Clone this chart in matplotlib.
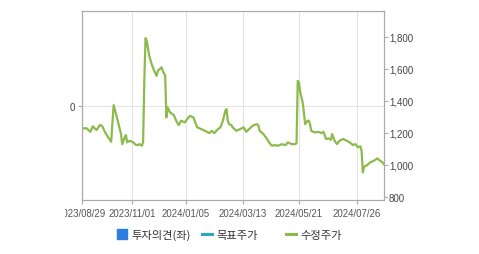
import matplotlib
matplotlib.use("Agg")
import matplotlib.pyplot as plt
from matplotlib.lines import Line2D
from matplotlib.ticker import FuncFormatter
from matplotlib.transforms import Bbox

# ===== data (x = trading session index from 2023/08/29) =====
session = [0, 4, 7, 9, 12, 15, 17, 19, 21, 24, 26, 28, 30, 32, 33, 35, 36, 37, 39,
           42, 44, 46, 47, 49, 50, 51, 52, 53, 55, 57, 59, 61, 62, 65, 66, 68, 69,
           70, 72, 75, 77, 79, 81, 84, 86, 88, 91, 92, 94, 96, 99, 102, 104, 106,
           108, 111, 113, 114, 115, 117, 118, 119, 120, 122, 123, 126, 129, 132,
           134, 137, 140, 143, 144, 145, 148, 151, 153, 155, 157, 160, 163, 166,
           168, 171, 174, 175, 176, 177, 178, 180, 181, 182, 184, 185, 186, 187,
           190, 193, 195, 197, 199, 201, 203, 204, 206, 208, 210, 213, 216, 219,
           221, 223, 225, 227, 228, 229, 230, 231, 232, 235, 238, 241, 242, 245, 246]
price = [1228, 1228, 1206, 1240, 1217, 1250, 1238, 1203, 1178, 1144, 1373, 1317,
         1254, 1192, 1129, 1171, 1186, 1140, 1150, 1140, 1125, 1123, 1129, 1119,
         1140, 1525, 1792, 1775, 1681, 1629, 1588, 1556, 1588, 1609, 1588, 1556,
         1296, 1359, 1327, 1311, 1275, 1248, 1275, 1265, 1286, 1306, 1296, 1275,
         1234, 1228, 1217, 1206, 1198, 1212, 1198, 1223, 1234, 1254, 1275, 1338,
         1348, 1275, 1254, 1248, 1234, 1212, 1223, 1234, 1206, 1228, 1248, 1254,
         1244, 1212, 1192, 1161, 1136, 1119, 1123, 1119, 1129, 1123, 1140, 1129,
         1129, 1135, 1525, 1515, 1453, 1390, 1327, 1254, 1275, 1275, 1254, 1212,
         1202, 1206, 1198, 1206, 1161, 1165, 1156, 1192, 1150, 1129, 1150, 1161,
         1150, 1136, 1123, 1129, 1109, 1115, 1088, 952, 985, 994, 994, 1015, 1025,
         1040, 1031, 1015, 1004]
last_session = 246

tick_sessions = [0, 41, 85, 131, 177, 224]
tick_labels = ["2023/08/29", "2023/11/01", "2024/01/05", "2024/03/13",
               "2024/05/21", "2024/07/26"]
price_ticks = [800, 1000, 1200, 1400, 1600, 1800]

legend_labels = ["투자의견(좌)", "목표주가", "수정주가"]
legend_colors = ["#2b7de0", "#27a9c5", "#8cba4c"]

# ===== figure =====
fig = plt.figure(figsize=(4.79, 2.55), dpi=100)
ax = fig.add_axes([0.1706, 0.212, 0.6304, 0.740])
ax2 = ax.twinx()

spine_c = "#aaaaaa"
for a in (ax, ax2):
    for s in a.spines.values():
        s.set_color(spine_c)
        s.set_linewidth(0.8)

num_font = "Liberation Sans"

# left axis (투자의견)
ax.set_xlim(0, last_session)
ax.set_ylim(-1, 1)
ax.set_yticks([0])
ax.set_yticklabels(["0"], fontsize=7, color="#444444", family=num_font)
ax.set_xticks(tick_sessions)
ax.set_xticklabels(tick_labels, fontsize=6.9, color="#555555", family=num_font)
ax.tick_params(axis="both", length=3, width=0.8, color=spine_c, pad=2)
ax.tick_params(axis="x", pad=3)
ax.grid(True, color="#e4e4e4", linewidth=0.8)
ax.set_axisbelow(True)

# right axis (수정주가)
ax2.plot(session, price, color=legend_colors[2], linewidth=1.6, solid_joinstyle="round")
ax2.set_ylim(780, 1960)
ax2.set_yticks(price_ticks)
ax2.yaxis.set_major_formatter(FuncFormatter(lambda v, p: f"{int(v):,}"))
ax2.tick_params(axis="y", length=3, width=0.8, color=spine_c, pad=0.8,
                labelsize=7, labelcolor="#444444")
for t in ax2.get_yticklabels():
    t.set_family(num_font)

# first date label is cut at the chart box edge
fig.canvas.draw()
first = ax.get_xticklabels()[0]
first.set_clip_box(Bbox.from_extents(64.5, 0, 479, 255))
first.set_clip_on(True)

# ===== legend =====
handles = [
    Line2D([], [], marker="s", linestyle="", markersize=6.6, color=legend_colors[0]),
    Line2D([], [], color=legend_colors[1], linewidth=2.2),
    Line2D([], [], color=legend_colors[2], linewidth=2.2),
]
lx = [116.5 / 479, 201.5 / 479, 286 / 479]
for h, lab, x in zip(handles, legend_labels, lx):
    fig.legend([h], [lab], loc="center left", bbox_to_anchor=(x, 1 - 235.5 / 255),
               frameon=False, borderpad=0, borderaxespad=0, handlelength=0.9,
               handletextpad=0.4,
               prop={"family": ["Noto Sans CJK KR", "DejaVu Sans"], "size": 8.1},
               labelcolor="#333333")

fig.savefig("out.png", dpi=100)
